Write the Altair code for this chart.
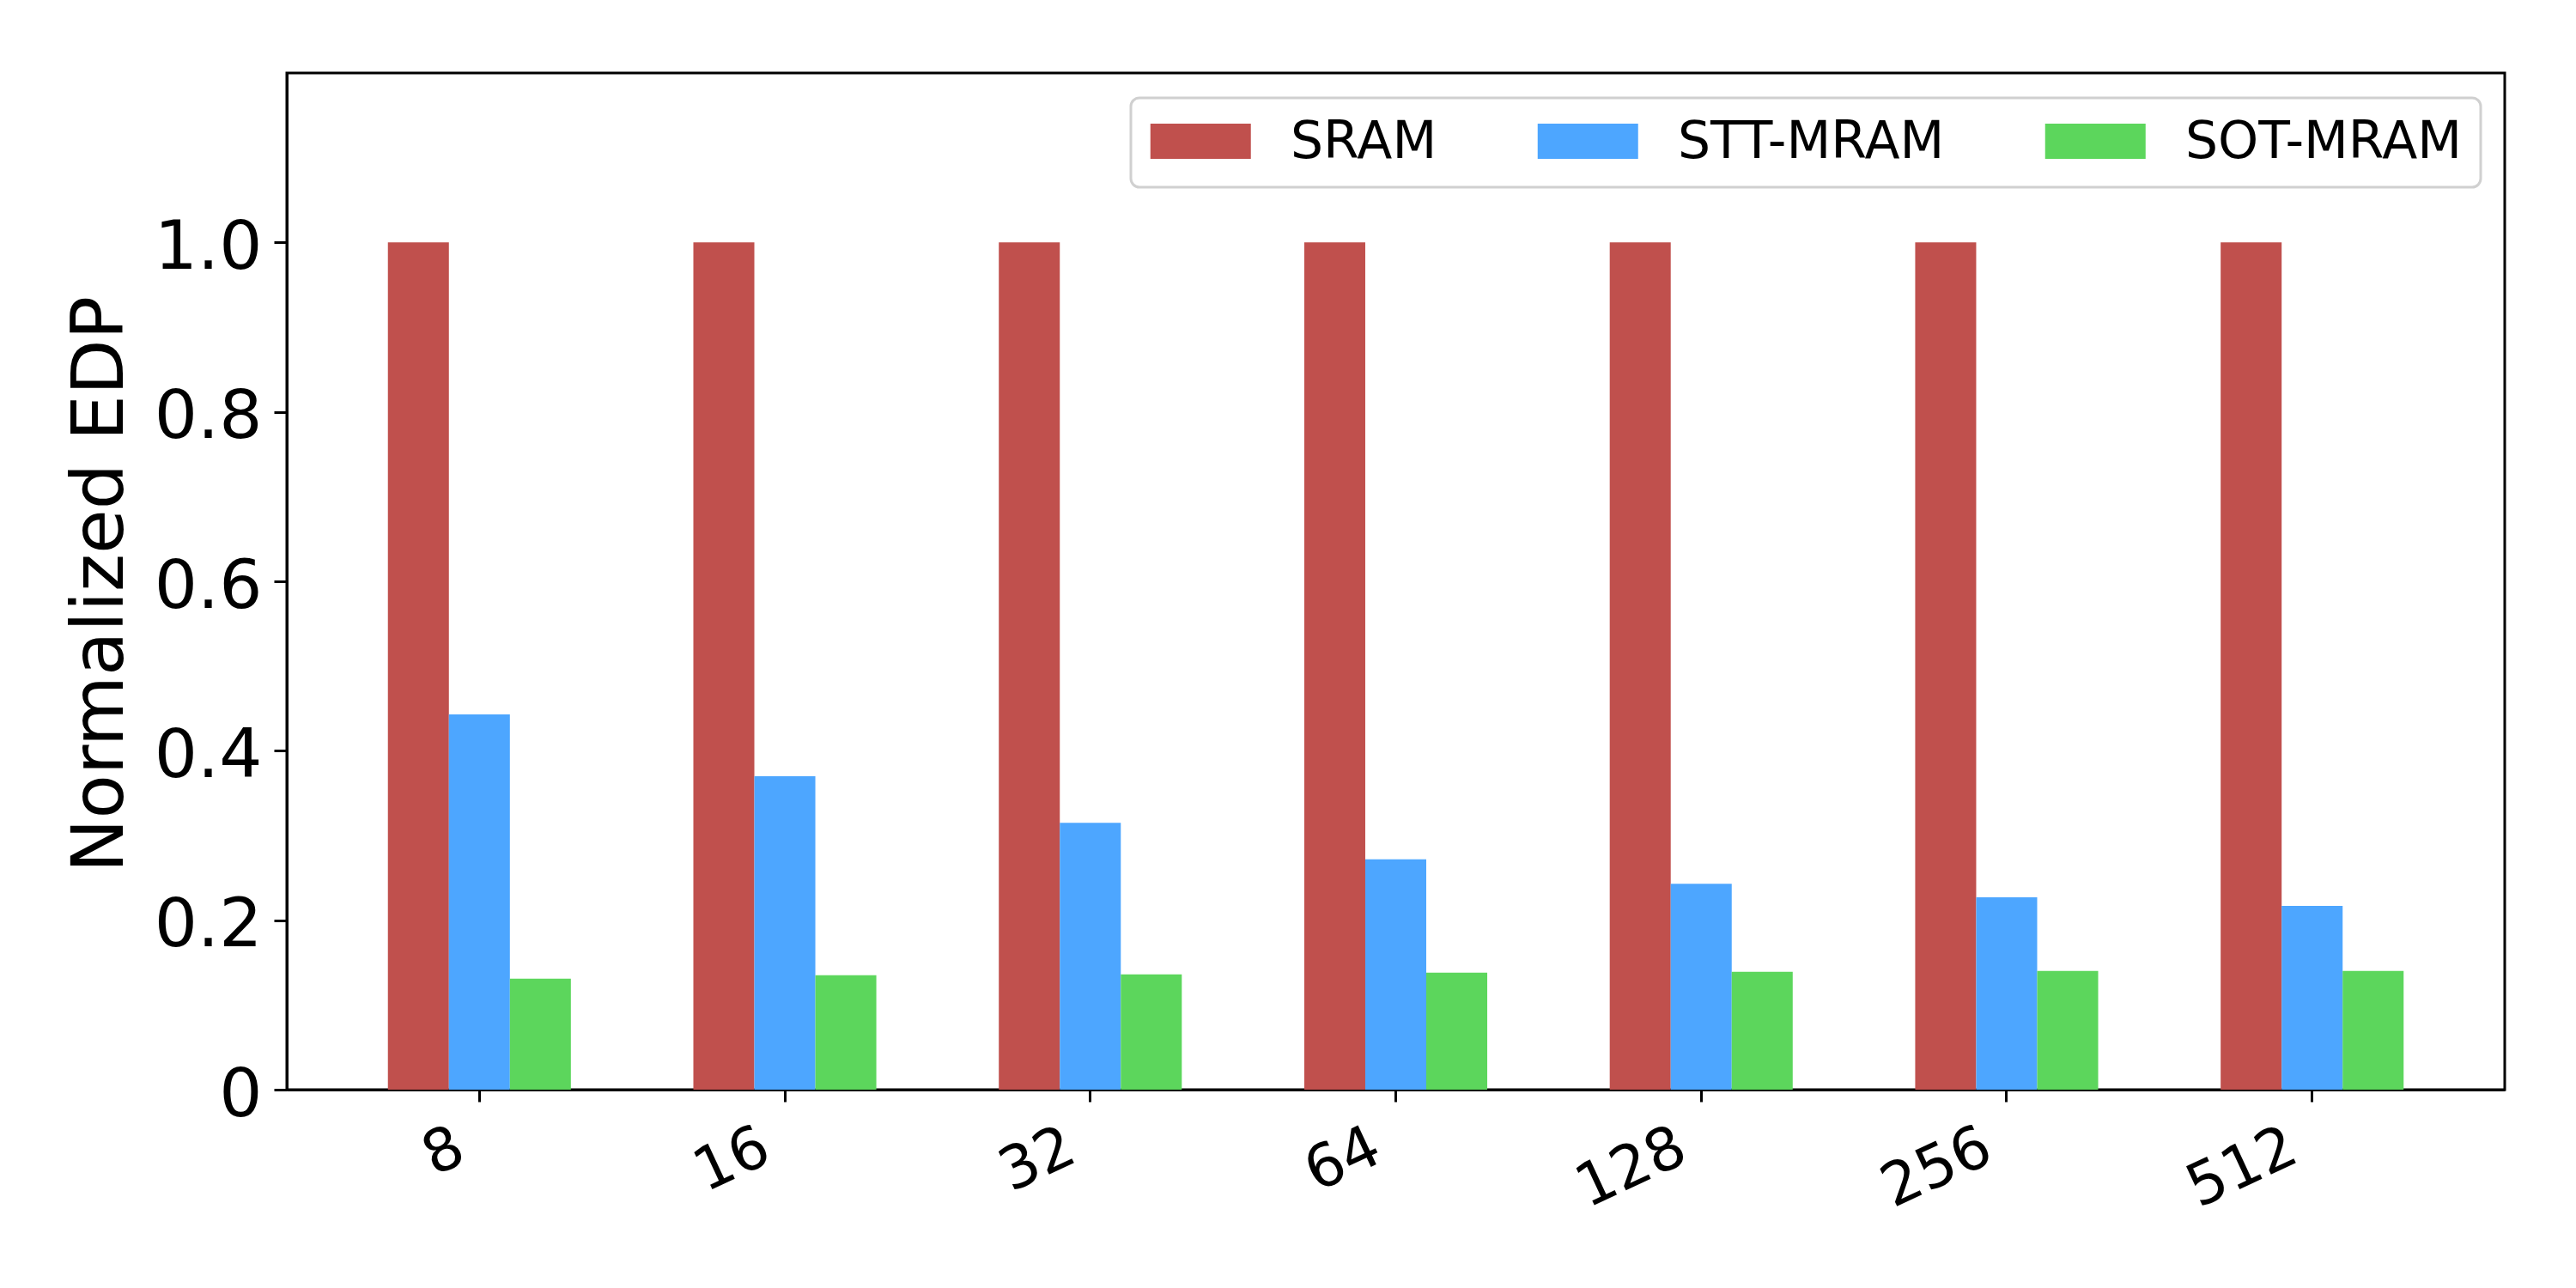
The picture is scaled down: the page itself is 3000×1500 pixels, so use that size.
import altair as alt
import pandas as pd

categories = ["8", "16", "32", "64", "128", "256", "512"]
series = ["SRAM", "STT-MRAM", "SOT-MRAM"]
sram = [1.0, 1.0, 1.0, 1.0, 1.0, 1.0, 1.0]
stt = [0.443, 0.370, 0.315, 0.272, 0.243, 0.227, 0.217]
sot = [0.131, 0.135, 0.136, 0.138, 0.139, 0.140, 0.140]
colors = ["#c0504d", "#4da6ff", "#5cd65c"]
y_ticks = [0, 0.2, 0.4, 0.6, 0.8, 1.0]

rows = []
for name, vals in zip(series, [sram, stt, sot]):
    for c, v in zip(categories, vals):
        rows.append({"size": c, "mem": name, "edp": v})
df = pd.DataFrame(rows)

FONT = "DejaVu Sans"

chart = alt.Chart(df).mark_bar().encode(
    x=alt.X("size:N", sort=categories,
            scale=alt.Scale(paddingInner=0.401, paddingOuter=0.331),
            axis=alt.Axis(title=None, labelAngle=335, labelAlign="right",
                          labelBaseline="top", labelOffset=-36, labelPadding=18,
                          tickSize=14, tickWidth=3, tickColor="black",
                          domainWidth=3, domainColor="black",
                          labelFontSize=69, labelFont=FONT, labelColor="black",
                          grid=False)),
    xOffset=alt.XOffset("mem:N", sort=series,
                        scale=alt.Scale(paddingInner=0, paddingOuter=0)),
    y=alt.Y("edp:Q", scale=alt.Scale(domain=[0, 1.2], nice=False, zero=True),
            axis=alt.Axis(title="Normalized EDP", values=y_ticks,
                          labelExpr="datum.value == 0 ? '0' : format(datum.value, '.1f')",
                          tickSize=15, tickWidth=3, tickColor="black",
                          domainWidth=3, domainColor="black",
                          labelFontSize=79, labelFont=FONT, labelColor="black",
                          labelPadding=14, labelOffset=6,
                          titleFontSize=84, titleFont=FONT, titleFontWeight="normal",
                          titleColor="black", titleAngle=270, titleX=-192, titleY=595,
                          titleAlign="center", titleBaseline="alphabetic",
                          grid=False)),
    color=alt.Color("mem:N", sort=series,
                    scale=alt.Scale(domain=series, range=colors),
                    legend=alt.Legend(title=None, orient="none", legendX=983, legendY=29,
                                      direction="horizontal",
                                      fillColor="white", strokeColor="#d0d0d0",
                                      cornerRadius=10, padding=22,
                                      labelFontSize=60, labelFont=FONT, labelColor="black",
                                      labelLimit=1000, labelOffset=104,
                                      symbolType="M-1,-0.75H3V0.65H-1Z", symbolSize=3422,
                                      symbolStrokeWidth=0, symbolOpacity=1,
                                      columnPadding=116)),
).properties(
    width=2583,
    height=1184,
    background="white",
    autosize=alt.AutoSizeParams(type="none"),
    padding={"left": 326, "top": 77, "right": 75, "bottom": 223},
).configure_view(
    stroke="black", strokeWidth=3
).configure_legend(
    strokeWidth=3
)

chart.save("out.html", embed_options={"renderer": "svg", "actions": False})
